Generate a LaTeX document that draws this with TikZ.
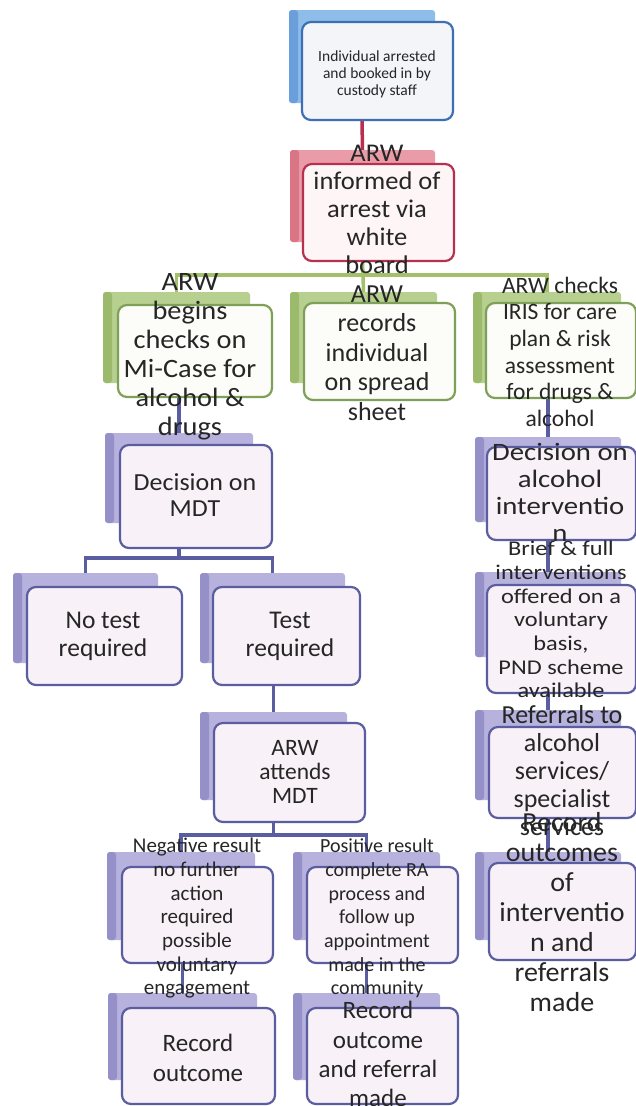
\documentclass[tikz,border=0pt]{standalone}
\usepackage{fontspec}
\usepackage{graphicx}
\setmainfont{Carlito}
\usetikzlibrary{backgrounds}
\definecolor{bluebk}{HTML}{8DBDE8}
\definecolor{bluedk}{HTML}{6A9FDB}
\definecolor{bluefr}{HTML}{3E6EB4}
\definecolor{bluefill}{HTML}{F3F5F9}
\definecolor{redbk}{HTML}{E99CA7}
\definecolor{reddk}{HTML}{D97584}
\definecolor{redfr}{HTML}{B8304F}
\definecolor{redfill}{HTML}{FDF5F6}
\definecolor{grnbk}{HTML}{B7D08F}
\definecolor{grndk}{HTML}{9CBA6C}
\definecolor{grnfr}{HTML}{7FA058}
\definecolor{grnln}{HTML}{A3C16A}
\definecolor{grnfill}{HTML}{FCFCF8}
\definecolor{purbk}{HTML}{B6B2DD}
\definecolor{purdk}{HTML}{9590C8}
\definecolor{purfr}{HTML}{5A5EA0}
\definecolor{purfill}{HTML}{F8F1F7}
\definecolor{txtc}{HTML}{262626}
\newcommand\hs[2]{\scalebox{#1}[1]{\begin{tabular}{@{}c@{}}#2\end{tabular}}}
\tikzset{
  back/.style 2 args={inner sep=0pt, outer sep=0pt, anchor=north west, rounded corners=3pt,
    fill=#1, path picture={\fill[#2] (path picture bounding box.north west) rectangle ([xshift=9pt]path picture bounding box.south west);}},
  front/.style 2 args={inner sep=0pt, outer sep=0pt, anchor=north west, rounded corners=9pt,
    line width=2.2pt, draw=#1, fill=#2},
  txt/.style={text=txtc, inner sep=0pt, yshift=-3pt},
  conn/.style={line width=3.5pt, draw=#1},
}
\begin{document}
\begin{tikzpicture}[x=1pt,y=-1pt]
\useasboundingbox (0,0) rectangle (636,1106);
\begin{pgfonlayer}{background}
\fill[white] (0,0) rectangle (636,1106);
\end{pgfonlayer}
% back boxes
\node[back={bluebk}{bluedk}, minimum width=146pt, minimum height=93pt] (b1) at (289,10) {};
\node[back={redbk}{reddk}, minimum width=145pt, minimum height=92pt] (b2) at (290,150) {};
\node[back={grnbk}{grndk}, minimum width=147pt, minimum height=91pt] (b3a) at (103,292) {};
\node[back={grnbk}{grndk}, minimum width=147pt, minimum height=91pt] (b3b) at (290,292) {};
\node[back={grnbk}{grndk}, minimum width=148pt, minimum height=91pt] (b3c) at (473,292) {};
\node[back={purbk}{purdk}, minimum width=148pt, minimum height=90pt] (b4) at (105,433) {};
\node[back={purbk}{purdk}, minimum width=145pt, minimum height=90pt] (b5a) at (13,573) {};
\node[back={purbk}{purdk}, minimum width=145pt, minimum height=90pt] (b5b) at (200,573) {};
\node[back={purbk}{purdk}, minimum width=147pt, minimum height=88pt] (b6) at (200,712) {};
\node[back={purbk}{purdk}, minimum width=146pt, minimum height=85pt] (b7) at (475,437) {};
\node[back={purbk}{purdk}, minimum width=146pt, minimum height=85pt] (b8) at (475,572) {};
\node[back={purbk}{purdk}, minimum width=146pt, minimum height=90pt] (b9) at (475,710) {};
\node[back={purbk}{purdk}, minimum width=146pt, minimum height=88pt] (b10) at (475,852) {};
\node[back={purbk}{purdk}, minimum width=148pt, minimum height=88pt] (b11) at (107,852) {};
\node[back={purbk}{purdk}, minimum width=147pt, minimum height=88pt] (b12) at (293,852) {};
\node[back={purbk}{purdk}, minimum width=149pt, minimum height=87pt] (b13) at (108,993) {};
\node[back={purbk}{purdk}, minimum width=147pt, minimum height=87pt] (b14) at (293,993) {};
% front boxes
\node[front={bluefr}{bluefill}, minimum width=151pt, minimum height=98pt] (f1) at (302,22) {};
\node[front={redfr}{redfill}, minimum width=151pt, minimum height=97pt] (f2) at (303,164) {};
\node[front={grnfr}{grnfill}, minimum width=154pt, minimum height=92pt] (f3a) at (118,305) {};
\node[front={grnfr}{grnfill}, minimum width=151pt, minimum height=97pt] (f3b) at (304,303) {};
\node[front={grnfr}{grnfill}, minimum width=150pt, minimum height=95pt] (f3c) at (486,303) {};
\node[front={purfr}{purfill}, minimum width=152pt, minimum height=103pt] (f4) at (120,445) {};
\node[front={purfr}{purfill}, minimum width=155pt, minimum height=98pt] (f5a) at (27,587) {};
\node[front={purfr}{purfill}, minimum width=147pt, minimum height=98pt] (f5b) at (213,587) {};
\node[front={purfr}{purfill}, minimum width=151pt, minimum height=99pt] (f6) at (214,723) {};
\node[front={purfr}{purfill}, minimum width=149pt, minimum height=93pt] (f7) at (487,447) {};
\node[front={purfr}{purfill}, minimum width=149pt, minimum height=108pt] (f8) at (487,585) {};
\node[front={purfr}{purfill}, minimum width=147pt, minimum height=91pt] (f9) at (489,727) {};
\node[front={purfr}{purfill}, minimum width=147pt, minimum height=97pt] (f10) at (489,863) {};
\node[front={purfr}{purfill}, minimum width=151pt, minimum height=96pt] (f11) at (122,867) {};
\node[front={purfr}{purfill}, minimum width=151pt, minimum height=96pt] (f12) at (307,867) {};
\node[front={purfr}{purfill}, minimum width=153pt, minimum height=96pt] (f13) at (122,1008) {};
\node[front={purfr}{purfill}, minimum width=151pt, minimum height=96pt] (f14) at (307,1008) {};
% junction points
\coordinate (hg) at ([yshift=17pt]b3a.north);
\coordinate (hp1) at ([yshift=15pt]b5a.north);
\coordinate (hp2) at ([yshift=17pt]b11.north);
% connectors
\begin{pgfonlayer}{background}
\draw[conn=redfr] (b1.center |- f1.south) -- (b2.north);
\draw[conn=grnln] (b2.center |- f2.south) -- (b3b.north);
\draw[conn=grnln] (b3a.north) -- (hg) -| (b3c.north);
\draw[conn=purfr] (b4.north |- f3a.south) -- (b4.north);
\draw[conn=purfr] (b4.center |- f4.south) -- (b4.center |- hp1);
\draw[conn=purfr] (b5a.north) -- (hp1) -| (b5b.north);
\draw[conn=purfr] (b6.north |- f5b.south) -- (b6.north);
\draw[conn=purfr] (b6.center |- f6.south) -- (b6.center |- hp2);
\draw[conn=purfr] (b11.north) -- (hp2) -| (b12.north);
\draw[conn=purfr] (b13.north |- f11.south) -- (b13.north);
\draw[conn=purfr] (b14.north |- f12.south) -- (b14.north);
\draw[conn=purfr] (b7.north |- f3c.south) -- (b7.north);
\draw[conn=purfr] (b8.north |- f7.south) -- (b8.north);
\draw[conn=purfr] (b9.north |- f8.south) -- (b9.north);
\draw[conn=purfr] (b10.north |- f9.south) -- (b10.north);
\end{pgfonlayer}
% texts
\node[txt, font=\fontsize{15.5}{17}\selectfont] (t1) at (377,72) {\hs{1}{Individual arrested\\and booked in by\\custody staff}};
\node[txt, font=\fontsize{25.5}{28}\selectfont] (t2) at (377,209) {\hs{1.04}{ARW\\informed of\\arrest via\\white\\board}};
\node[txt, font=\fontsize{26.5}{29}\selectfont] (t3a) at (190,354.5) {\hs{1.07}{ARW\\begins\\checks on\\Mi-Case for\\alcohol \&\\drugs}};
\node[txt, font=\fontsize{26}{29.5}\selectfont] (t3b) at (377,352.5) {\hs{1}{ARW\\records\\individual\\on spread\\sheet}};
\node[txt, font=\fontsize{23.5}{26.6}\selectfont] (t3c) at (560,351.5) {\hs{1}{ARW checks\\IRIS for care\\plan \& risk\\assessment\\for drugs \&\\alcohol}};
\node[txt, font=\fontsize{24.5}{26}\selectfont] (t4) at (195,495.5) {\hs{1.06}{Decision on\\MDT}};
\node[txt, font=\fontsize{25.5}{28}\selectfont] (t5a) at (103,634) {\hs{1}{No test\\required}};
\node[txt, font=\fontsize{25.5}{28}\selectfont] (t5b) at (290,634) {\hs{1}{Test\\required}};
\node[txt, font=\fontsize{23.5}{24}\selectfont] (t6) at (295,771.5) {\hs{1}{ARW\\attends\\MDT}};
\node[txt, font=\fontsize{25}{27}\selectfont] (t7) at (560,492.5) {\hs{1.15}{Decision on\\alcohol\\interventio\\n}};
\node[txt, font=\fontsize{21}{23.7}\selectfont] (t8) at (561,619) {\hs{1.16}{Brief \& full\\interventions\\offered on a\\voluntary\\basis,\\PND scheme\\available}};
\node[txt, font=\fontsize{26}{28}\selectfont] (t9) at (562,771) {\hs{1}{Referrals to\\alcohol\\services/\\specialist\\services}};
\node[txt, font=\fontsize{27.5}{30}\selectfont] (t10) at (562,912) {\hs{1.02}{Record\\outcomes\\of\\interventio\\n and\\referrals\\made}};
\node[txt, font=\fontsize{21}{23.7}\selectfont] (t11) at (197,916) {\hs{1}{Negative result\\no further\\action\\required\\possible\\voluntary\\engagement}};
\node[txt, font=\fontsize{20}{23.7}\selectfont] (t12) at (377,916) {\hs{1}{Positive result\\complete RA\\process and\\follow up\\appointment\\made in the\\community}};
\node[txt, font=\fontsize{25}{30}\selectfont] (t13) at (198,1057) {\hs{1}{Record\\outcome}};
\node[txt, font=\fontsize{25}{29.3}\selectfont] (t14) at (378,1054) {\hs{1}{Record\\outcome\\and referral\\made}};
\end{tikzpicture}
\end{document}
